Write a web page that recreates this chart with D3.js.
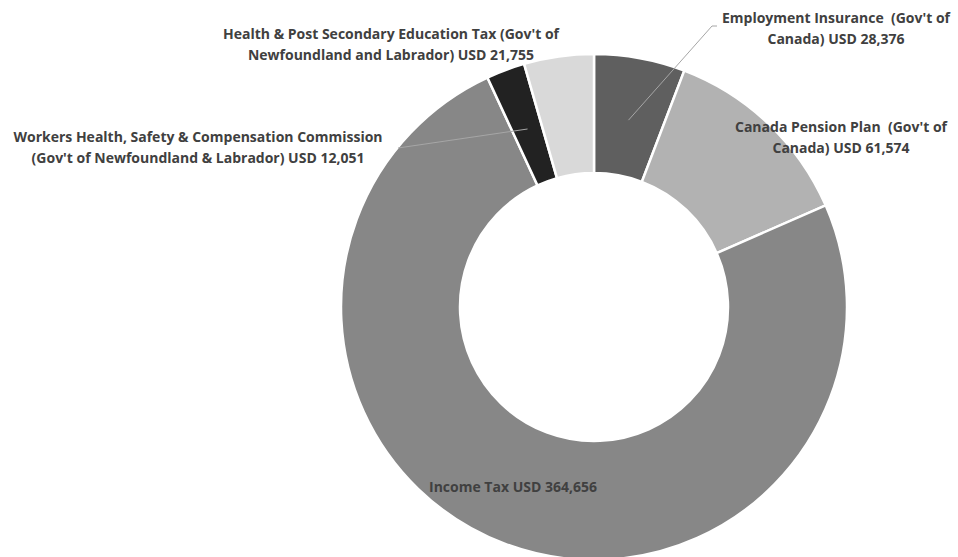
<!DOCTYPE html>
<html><head><meta charset="utf-8">
<script src="https://cdn.jsdelivr.net/npm/d3@7/dist/d3.min.js"></script>
<style>body{margin:0;background:#fff} text{white-space:pre}</style>
</head><body><svg id="c" width="958" height="557"></svg>
<script>
const categories = [
  ["Employment Insurance  (Gov't of", "Canada) USD 28,376"],
  ["Canada Pension Plan  (Gov't of", "Canada) USD 61,574"],
  ["Income Tax USD 364,656"],
  ["Workers Health, Safety & Compensation Commission", "(Gov't of Newfoundland & Labrador) USD 12,051"],
  ["Health & Post Secondary Education Tax (Gov't of", "Newfoundland and Labrador) USD 21,755"]
];
const values = [28376, 61574, 364656, 12051, 21755];
const colors = ["#5f5f5f", "#b2b2b2", "#878787", "#222222", "#d9d9d9"];
const labelPos = [[836, 18], [841, 127], [513, 487], [198, 137], [391, 34]];
const leaderStart = [[717, 26], null, null, [398, 148], null];

const svg = d3.select("#c");
const cx = 594, cy = 307, R = 253, r = 134;
const g = svg.append("g").attr("transform", `translate(${cx},${cy})`);
const pie = d3.pie().sort(null).value(d => d)(values);
const arc = d3.arc().innerRadius(r).outerRadius(R);
g.selectAll("path").data(pie).join("path")
  .attr("d", arc).attr("fill", (d, i) => colors[i])
  .attr("stroke", "#fff").attr("stroke-width", 2.5);

const mid = d3.arc().innerRadius(190).outerRadius(190);
pie.forEach((d, i) => {
  if (!leaderStart[i]) return;
  const e = mid.centroid(d);
  const s = leaderStart[i];
  const pts = i === 0 ? `${s[0]},${s[1]} ${s[0] - 5},${s[1]} ${cx + e[0]},${cy + e[1]}` : `${s[0]},${s[1]} ${cx + e[0]},${cy + e[1]}`;
  svg.append("polyline")
    .attr("points", pts)
    .attr("fill", "none").attr("stroke", "#a6a6a6").attr("stroke-width", 1);
});

categories.forEach((lines, i) => {
  const t = svg.append("text")
    .attr("x", labelPos[i][0]).attr("y", labelPos[i][1] + 5)
    .attr("text-anchor", "middle")
    .attr("font-family", "Open Sans, sans-serif").attr("font-weight", "bold")
    .attr("font-size", 14).attr("fill", "#404040");
  lines.forEach((l, j) => t.append("tspan").attr("x", labelPos[i][0]).attr("dy", j ? 21 : 0).text(l));
});
</script></body></html>
